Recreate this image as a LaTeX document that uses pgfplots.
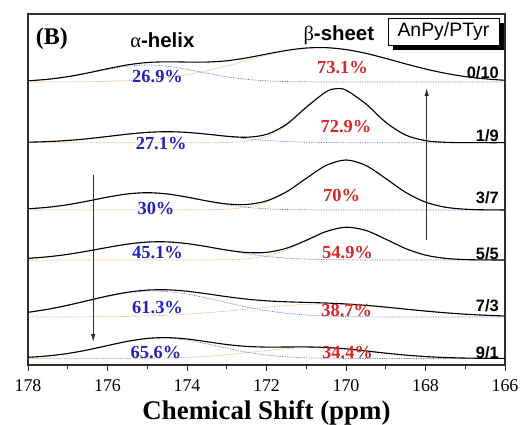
\documentclass[border=0pt]{standalone}
\usepackage{pgfplots}
\pgfplotsset{compat=1.18}
\usepackage{pgfplotstable}
\usetikzlibrary{arrows.meta}
\usepackage{fontspec}
\setmainfont{Liberation Serif}
\newfontfamily\arial{Liberation Sans}
\definecolor{labblue}{RGB}{35,35,185}
\definecolor{labred}{RGB}{215,40,40}
\definecolor{bdot}{RGB}{80,100,200}
\definecolor{rdot}{RGB}{220,150,100}
\definecolor{axgray}{RGB}{45,45,45}

% columns: x (ppm), a = alpha-helix component, b = beta-sheet component (heights)
\pgfplotstableread{
x a b
166 0 1.72
166.5 0 3.17
167 0 5.44
167.5 0 8.70
168 0 13.0
168.5 0 18.13
169 0 23.6
169.5 0 28.66
170 0 32.44
170.5 0.04 34.3
171 0.15 33.82
171.5 0.45 31.13
172 1.19 26.73
172.5 2.67 21.43
173 5.20 16.0
173.5 8.74 11.18
174 12.65 7.26
174.5 15.79 4.40
175 17.0 2.50
175.5 15.79 1.32
176 12.65 0.65
176.5 8.74 0.30
177 5.20 0.13
177.5 2.67 0.05
178 1.19 0.02
}\tA
\pgfplotstableread{
x a b
166 0 0
166.5 0 0
167 0 0.05
167.5 0 0.39
168 0 2.05
168.5 0 7.65
169 0 20.4
169.5 0 38.8
170 0.06 52.5
170.25 0.1 53.9
170.5 0.19 50.8
171 0.48 35.0
171.5 1.11 17.2
172 2.23 6.04
172.5 3.96 1.51
173 6.20 0.27
173.5 8.52 0.03
174 10.32 0
174.5 11 0
175 10.32 0
175.5 8.52 0
176 6.20 0
176.5 3.96 0
177 2.23 0
177.5 1.11 0
178 0.48 0
}\tB
\pgfplotstableread{
x a b
166 0 0.03
166.5 0 0.17
167 0 0.78
167.5 0 2.78
168 0 7.87
168.5 0 17.67
169 0 31.49
169.5 0 44.54
170 0 50
170.5 0.04 44.54
171 0.15 31.49
171.5 0.46 17.67
172 1.21 7.87
172.5 2.72 2.78
173 5.29 0.78
173.5 8.89 0.17
174 12.87 0.03
174.5 16.07 0
175 17.3 0
175.5 16.07 0
176 12.87 0
176.5 8.89 0
177 5.29 0
177.5 2.72 0
178 1.21 0
}\tC
\pgfplotstableread{
x a b
166 0 0.01
166.5 0 0.09
167 0 0.42
167.5 0 1.63
168 0 4.89
168.5 0 11.43
169 0 20.82
169.5 0.04 29.55
170 0.13 32.66
170.5 0.36 28.12
171 0.87 18.85
171.5 1.88 9.84
172 3.62 4.0
172.5 6.24 1.27
173 9.63 0.31
173.5 13.29 0.06
174 16.41 0
174.5 18.14 0
175 17.94 0
175.5 15.87 0
176 12.57 0
176.5 8.91 0
177 5.65 0
177.5 3.21 0
178 1.63 0
}\tD
\pgfplotstableread{
x a b
166 0 1.03
166.5 0 1.76
167 0 2.81
167.5 0 4.22
168 0 5.95
168.5 0 7.88
169 0.07 9.81
169.5 0.18 11.47
170 0.44 12.6
170.5 0.99 13
171 2.0 12.6
171.5 3.73 11.47
172 6.38 9.81
172.5 10.0 7.88
173 14.38 5.95
173.5 18.97 4.22
174 22.95 2.81
174.5 25.45 1.76
175 25.90 1.03
175.5 24.17 0.57
176 20.68 0.30
176.5 16.23 0.14
177 11.68 0.07
177.5 7.71 0.03
178 4.67 0.01
}\tE
\pgfplotstableread{
x a b
166 0 0.07
166.5 0 0.18
167 0 0.44
167.5 0 0.98
168 0 1.93
168.5 0 3.40
169 0 5.35
169.5 0.02 7.56
170 0.08 9.54
170.5 0.25 10.78
171 0.69 10.9
171.5 1.63 9.86
172 3.42 7.99
172.5 6.31 5.79
173 10.24 3.75
173.5 14.63 2.18
174 18.4 1.13
174.5 20.38 0.52
175 19.87 0.22
175.5 17.05 0.08
176 12.88 0.03
176.5 8.56 0
177 5.01 0
177.5 2.58 0
178 1.17 0
}\tF

\newcommand\trace[2]{%
  \addplot[bdot, densely dotted, line width=0.7bp, smooth] table[x=x, y expr=\thisrow{a}+#2] {#1};
  \addplot[rdot, densely dotted, line width=0.7bp, smooth] table[x=x, y expr=\thisrow{b}+#2] {#1};
  \addplot[black, line width=1.1bp, smooth] table[x=x, y expr=\thisrow{a}+\thisrow{b}+#2] {#1};
}

\begin{document}
\begin{tikzpicture}[
  pb/.style={font=\bfseries\fontsize{18.5}{18.5}\selectfont, text=labblue, inner sep=0pt},
  pr/.style={font=\bfseries\fontsize{18.5}{18.5}\selectfont, text=labred, inner sep=0pt},
  rat/.style={font=\arial\bfseries\fontsize{16.5}{16.5}\selectfont, anchor=east, inner sep=0pt},
]
\begin{axis}[
  scale only axis, width=477bp, height=351bp,
  xmin=166, xmax=178, ymin=0, ymax=351, x dir=reverse,
  xtick={166,168,...,178}, minor xtick={167,169,...,177},
  ytick=\empty, xtick pos=bottom,
  tick align=outside, major tick length=6bp, minor tick length=4bp,
  axis line style={axgray, line width=1.2bp},
  every tick/.style={axgray, line width=0.8bp},
  clip=false,
  /pgf/number format/assume math mode=true,
  xticklabel style={font=\fontsize{18}{18}\selectfont, inner sep=0pt, yshift=-8bp},
  xlabel={\textbf{Chemical Shift (ppm)}},
  xlabel style={font=\fontsize{27}{27}\selectfont, inner sep=0pt, at={(axis description cs:0.5,0)}, anchor=north, yshift=-35bp},
]
\draw[axgray, line width=1.3bp] (axis cs:178,0) -- (axis cs:178,351) -- (axis cs:166,351) -- (axis cs:166,0);
\trace{\tA}{283}
\trace{\tB}{222.3}
\trace{\tC}{155}
\trace{\tD}{105}
\trace{\tE}{48}
\trace{\tF}{6.5}

\draw[axgray, line width=0.8bp, -{Latex[length=8bp,width=4.5bp]}] (axis cs:167.97,125) -- (axis cs:167.97,277);
\draw[axgray, line width=0.8bp, -{Latex[length=8bp,width=4.5bp]}] (axis cs:176.36,190) -- (axis cs:176.36,23);

\node[font=\bfseries\fontsize{24}{24}\selectfont, inner sep=0pt] at (axis cs:177.40,326) {(B)};
\node[font=\arial\bfseries\fontsize{20.5}{20.5}\selectfont, inner sep=0pt] at (axis cs:174.62,325) {{\rmfamily\mdseries α}-helix};
\node[font=\arial\bfseries\fontsize{20.5}{20.5}\selectfont, inner sep=0pt] at (axis cs:170.18,330) {{\rmfamily\mdseries β}-sheet};

\fill[black] ([xshift=5bp,yshift=-5bp]axis cs:167.55,333.5) ++(-55.5bp,-13.5bp) rectangle ++(111bp,27bp);
\node[draw=black, fill=white, line width=0.7bp, minimum width=111bp, minimum height=27bp, inner sep=0pt,
      font=\arial\fontsize{19.5}{19.5}\selectfont] at (axis cs:167.55,333.5) {AnPy/PTyr};

\node[rat] at (axis cs:166.15,292.5) {0/10};
\node[rat] at (axis cs:166.15,229) {1/9};
\node[rat] at (axis cs:166.15,167) {3/7};
\node[rat] at (axis cs:166.15,111) {5/5};
\node[rat] at (axis cs:166.15,59) {7/3};
\node[rat] at (axis cs:166.15,12.5) {9/1};

\node[pb] at (axis cs:174.74,288.5) {26.9\%};
\node[pr] at (axis cs:170.09,297) {73.1\%};
\node[pb] at (axis cs:174.65,221) {27.1\%};
\node[pr] at (axis cs:170.0,238) {72.9\%};
\node[pb] at (axis cs:174.78,157) {30\%};
\node[pr] at (axis cs:170.11,169.4) {70\%};
\node[pb] at (axis cs:174.74,112) {45.1\%};
\node[pr] at (axis cs:169.96,112) {54.9\%};
\node[pb] at (axis cs:174.74,57.5) {61.3\%};
\node[pr] at (axis cs:169.98,54.5) {38.7\%};
\node[pb] at (axis cs:174.78,12.5) {65.6\%};
\node[pr] at (axis cs:169.96,12) {34.4\%};
\end{axis}
\pgfresetboundingbox
\path[use as bounding box] ([shift={(-28bp,-60bp)}]current axis.south west) rectangle ([shift={(16bp,14bp)}]current axis.north east);
\end{tikzpicture}
\end{document}
